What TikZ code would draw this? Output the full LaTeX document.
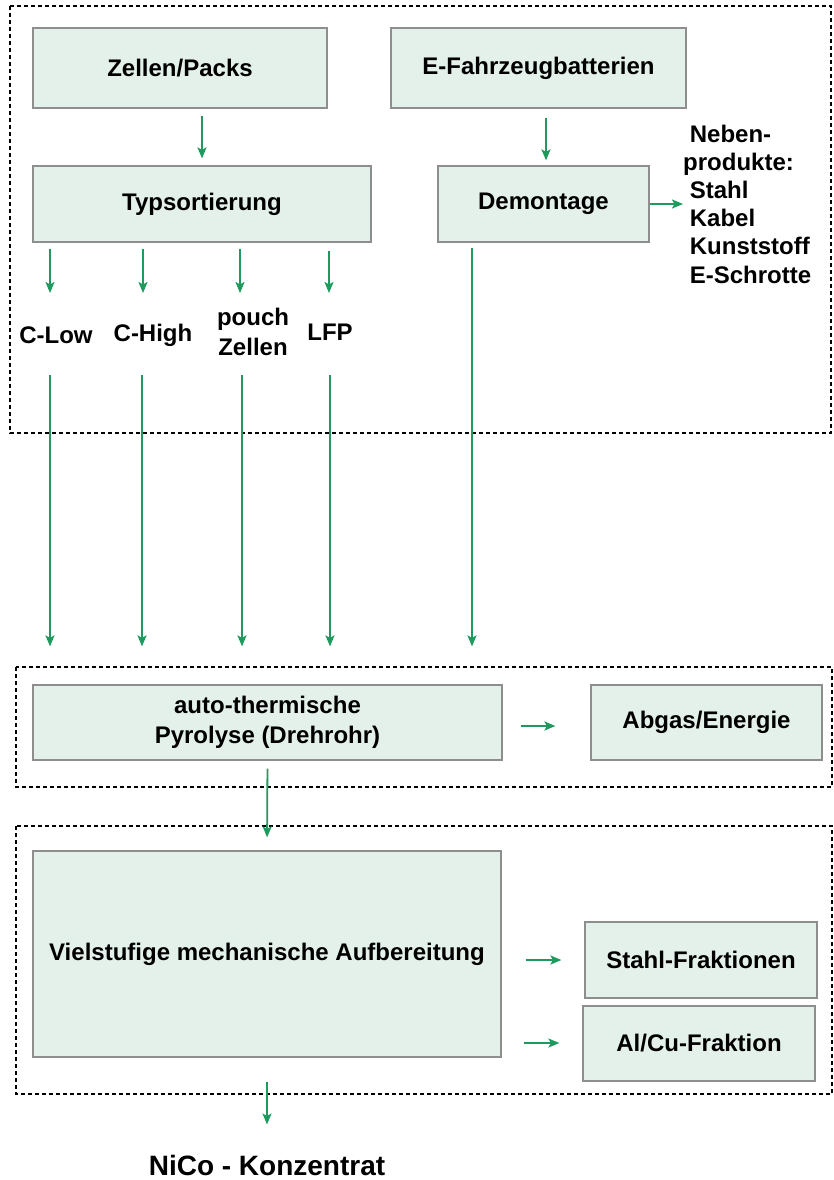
\documentclass[tikz,border=0pt]{standalone}
\usepackage{fontspec}
\setmainfont{Liberation Sans}
\usetikzlibrary{positioning,calc,arrows.meta}
\definecolor{boxfill}{HTML}{E3F1EA}
\definecolor{boxline}{HTML}{8E8E8E}
\definecolor{flowgreen}{HTML}{1F9A5E}

\tikzset{
    procbox/.style={draw=boxline, fill=boxfill, line width=1.2pt, inner sep=0pt,
        align=center, font=\bfseries\fontsize{24}{30}\selectfont},
    lbl/.style={inner sep=0pt, align=center, font=\bfseries\fontsize{24}{30}\selectfont},
    flow/.style={draw=flowgreen, line width=1.8pt,
        -{Stealth[length=11pt,width=9pt,inset=2.5pt]}},
    group/.style={draw=black, line width=1.8pt, dash pattern=on 4pt off 3pt}
}

\begin{document}
\begin{tikzpicture}[x=1pt,y=-1pt]
        \useasboundingbox (0,0) rectangle (834,1180);

        % Dashed groups
        \draw[group] (10,6) rectangle (831,433);
        \draw[group] (16,667) rectangle (832,787);
        \draw[group] (16,826) rectangle (832,1094);

        % Input side
        \node[procbox, minimum width=294pt, minimum height=80pt] (zellen) at (180,68) {Zellen/Packs};
        \node[procbox, minimum width=295pt, minimum height=80pt] (efahr) at (538.5,68) {E-Fahrzeugbatterien};
        \node[procbox, minimum width=338pt, minimum height=76pt] (typs) at (202,204) {Typsortierung};
        \node[procbox, minimum width=211pt, minimum height=76pt] (demo) at (543.5,204) {Demontage};

        % By-products of dismantling
        \node[lbl, anchor=west, align=left, font=\bfseries\fontsize{24}{28.2}\selectfont] (neben) at (683,204)
            {\ Neben-\\produkte:\\\ Stahl\\\ Kabel\\\ Kunststoff\\\ E-Schrotte};

        % Cell types
        \node[lbl] (clow) at (56,335) {C-Low};
        \node[lbl] (chigh) at (153,335) {C-High};
        \node[lbl] (pouch) at (253,332) {pouch\\Zellen};
        \node[lbl] (lfp) at (330,332) {LFP};

        % Columns and rows of the arrows
        \coordinate (k1) at (50,293);
        \coordinate (k2) at (143,293);
        \coordinate (k3) at (240,293);
        \coordinate (k4) at (329,293);
        \coordinate (m1) at (50,375);
        \coordinate (m2) at (142,375);
        \coordinate (m3) at (242,375);
        \coordinate (m4) at (330,375);
        \coordinate (d1) at (472,248);
        \coordinate (e1) at (546,0);
        \coordinate (a1) at (0,726);
        \coordinate (a2) at (0,1043);

        % Treatment
        \node[procbox, minimum width=469pt, minimum height=75pt] (pyro) at (267.5,722.5) {auto-thermische\\Pyrolyse (Drehrohr)};
        \node[procbox, minimum width=231pt, minimum height=75pt] (abgas) at (706.5,722.5) {Abgas/Energie};
        \node[procbox, minimum width=468pt, minimum height=206pt] (mech) at (267,954) {Vielstufige mechanische Aufbereitung};
        \node[procbox, minimum width=232pt, minimum height=76pt] (stahl) at (701,960) {Stahl-Fraktionen};
        \node[procbox, minimum width=232pt, minimum height=75pt] (alcu) at (699,1043.5) {Al/Cu-Fraktion};
        \node[lbl, font=\bfseries\fontsize{28}{32}\selectfont] (nico) at (267,1165) {NiCo - Konzentrat};

        % Arrows in the upper group
        \draw[flow, shorten <=7pt, shorten >=7pt] (typs.north |- zellen.south) -- (typs.north);
        \draw[flow, shorten <=9pt, shorten >=5pt] (e1 |- efahr.south) -- (e1 |- demo.north);
        \draw[flow] (demo.east) -- (neben.west);
        \draw[flow, shorten <=6pt] (typs.south -| k1) -- (k1);
        \draw[flow, shorten <=6pt] (typs.south -| k2) -- (k2);
        \draw[flow, shorten <=6pt] (typs.south -| k3) -- (k3);
        \draw[flow, shorten <=8pt] (typs.south -| k4) -- (k4);

        % Long arrows down to the pyrolysis
        \draw[flow, shorten >=38pt] (m1) -- (m1 |- pyro.north);
        \draw[flow, shorten >=38pt] (m2) -- (m2 |- pyro.north);
        \draw[flow, shorten >=38pt] (m3) -- (m3 |- pyro.north);
        \draw[flow, shorten >=38pt] (m4) -- (m4 |- pyro.north);
        \draw[flow, shorten >=38pt] (d1) -- (d1 |- pyro.north);

        % Lower groups
        \draw[flow, shorten <=18pt, shorten >=35pt] (pyro.east |- a1) -- (abgas.west |- a1);
        \draw[flow, shorten <=8pt, shorten >=13pt] (pyro.south) -- (mech.north);
        \draw[flow, shorten <=24pt, shorten >=23pt] (mech.east |- stahl.west) -- (stahl.west);
        \draw[flow, shorten <=22pt, shorten >=23pt] (mech.east |- a2) -- (alcu.west |- a2);
        \draw[flow, shorten <=24pt, shorten >=30pt] (mech.south) -- (nico.north);
\end{tikzpicture}
\end{document}
